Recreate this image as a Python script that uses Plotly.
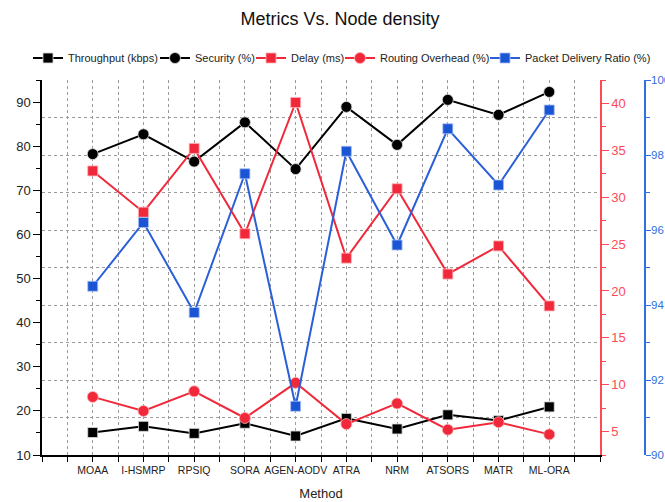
import plotly.graph_objects as go

methods = ["MOAA", "I-HSMRP", "RPSIQ", "SORA", "AGEN-AODV", "ATRA", "NRM", "ATSORS", "MATR", "ML-ORA"]
positions = [1, 2, 3, 4, 5, 6, 7, 8, 9, 10]

throughput = [15.1, 16.5, 14.9, 17.2, 14.3, 18.3, 15.9, 19.1, 17.8, 20.9]
security = [78.2, 82.7, 76.5, 85.4, 74.8, 88.9, 80.3, 90.5, 87.1, 92.3]
delay = [32.8, 28.4, 35.2, 26.1, 40.1, 23.5, 30.9, 21.8, 24.8, 18.4]
routing_overhead = [8.7, 7.2, 9.3, 6.45, 10.2, 5.8, 8.0, 5.2, 6.0, 4.7]
pdr = [94.5, 96.2, 93.8, 97.5, 91.3, 98.1, 95.6, 98.7, 97.2, 99.2]

BLACK = "#000000"
RED = "#f0283a"
RED_AX = "#ff4a55"
BLUE = "#1a55d6"
BLUE_AX = "#2f6fe0"
GRID = "#9a9a9a"
FONT = "Liberation Sans, Arial, sans-serif"

L, R, T, B = 42, 20, 80, 47
PW = 665 - L - R  # paper width in px
PH = 502 - T - B

fig = go.Figure()

fig.add_trace(go.Scatter(x=positions, y=throughput, name="Throughput (kbps)", mode="lines+markers",
                         line=dict(color=BLACK, width=2),
                         marker=dict(symbol="square", size=10, color=BLACK, line=dict(color="#dddddd", width=0.8)),
                         yaxis="y", legendwidth=82))
fig.add_trace(go.Scatter(x=positions, y=security, name="Security (%)", mode="lines+markers",
                         line=dict(color=BLACK, width=2),
                         marker=dict(symbol="circle", size=11, color=BLACK, line=dict(color="#dddddd", width=0.8)),
                         yaxis="y", legendwidth=51))
fig.add_trace(go.Scatter(x=positions, y=delay, name="Delay (ms)", mode="lines+markers",
                         line=dict(color=RED, width=2),
                         marker=dict(symbol="square", size=10, color=RED, line=dict(color="#ffb0b5", width=0.8)),
                         yaxis="y2", legendwidth=44))
fig.add_trace(go.Scatter(x=positions, y=routing_overhead, name="Routing Overhead (%)", mode="lines+markers",
                         line=dict(color=RED, width=2),
                         marker=dict(symbol="circle", size=11, color=RED, line=dict(color="#ffb0b5", width=0.8)),
                         yaxis="y2", legendwidth=100))
fig.add_trace(go.Scatter(x=positions, y=pdr, name="Packet Delivery Ratio (%)", mode="lines+markers",
                         line=dict(color="#2a5fd8", width=2),
                         marker=dict(symbol="square", size=10, color=BLUE, line=dict(color="#a8c0f0", width=0.8)),
                         yaxis="y3", legendwidth=130))

fig.update_layout(
    width=665, height=502,
    margin=dict(l=L, r=R, t=T, b=B, autoexpand=False),
    paper_bgcolor="white", plot_bgcolor="white",
    font=dict(family=FONT, color="#222222"),
    title=dict(text="Metrics Vs. Node density", x=340 / 665, xref="container", xanchor="center",
               y=1 - 19 / 502, yref="container", yanchor="middle",
               font=dict(size=18, color="#111111", family=FONT)),
    showlegend=True,
    legend=dict(orientation="h", xref="paper", yref="paper", x=(28 - L) / PW, xanchor="left",
                y=1 + (T - 58) / PH, yanchor="middle", font=dict(size=11, color="#222222", family=FONT),
                bgcolor="rgba(0,0,0,0)", itemwidth=30, tracegroupgap=0),
    xaxis=dict(domain=[0, 558 / PW], range=[0, 11], tickmode="array", tickvals=positions, ticktext=methods,
               showline=True, linecolor=BLACK, linewidth=1.5, ticks="outside", ticklen=5, tickcolor=BLACK,
               tickfont=dict(size=10.5, color="#222222"), showgrid=True, gridcolor=GRID, griddash="dot",
               gridwidth=1, zeroline=False, mirror=False, automargin=False,
               minor=dict(dtick=0.5, tick0=0, ticks="outside", ticklen=5, tickcolor=BLACK, showgrid=True,
                          gridcolor=GRID, griddash="dot", gridwidth=1),
               title=dict(text="Method", font=dict(size=13, color="#222222"), standoff=14)),
    yaxis=dict(range=[10, 95], tick0=10, dtick=10, showline=True, linecolor=BLACK, linewidth=1.5,
               ticks="outside", ticklen=7, tickcolor=BLACK, tickfont=dict(size=13, color="#222222"),
               showgrid=False, zeroline=False, automargin=False,
               minor=dict(dtick=5, tick0=10, ticks="outside", ticklen=4, tickcolor=BLACK, showgrid=False)),
    yaxis2=dict(overlaying="y", side="right", anchor="x", range=[2.5, 42.5], tick0=5, dtick=5,
                showline=True, linecolor=RED_AX, linewidth=1.5, ticks="outside", ticklen=7, tickcolor=RED_AX,
                tickfont=dict(size=13, color=RED_AX), showgrid=False, zeroline=False, automargin=False,
                minor=dict(dtick=2.5, tick0=2.5, ticks="outside", ticklen=4, tickcolor=RED_AX, showgrid=False)),
    yaxis3=dict(overlaying="y", side="right", anchor="free", position=(645 - L) / PW, autoshift=False, shift=0,
                range=[90, 100], tick0=90, dtick=2,
                showline=True, linecolor=BLUE_AX, linewidth=1.5, ticks="outside", ticklen=5, tickcolor=BLUE_AX,
                tickfont=dict(size=11.5, color=BLUE_AX), ticklabelstandoff=-2,
                showgrid=True, gridcolor=GRID, griddash="dot",
                gridwidth=1, zeroline=False, automargin=False,
                minor=dict(dtick=1, tick0=90, ticks="outside", ticklen=4, tickcolor=BLUE_AX, showgrid=True,
                           gridcolor=GRID, griddash="dot", gridwidth=1)),
)

fig.write_html("out.html")
